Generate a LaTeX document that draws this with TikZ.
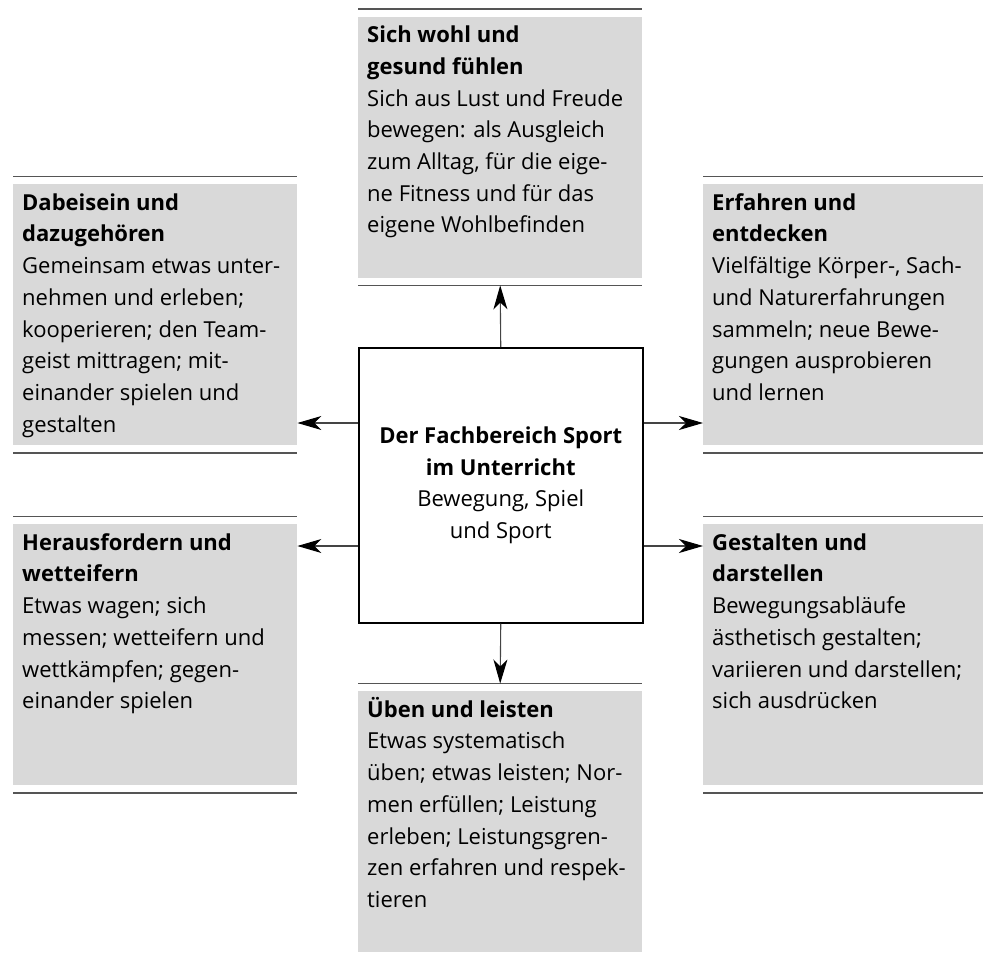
\documentclass[tikz,border=0pt]{standalone}
\usepackage{fontspec}
\setmainfont{Open Sans}
\usetikzlibrary{arrows.meta,calc}
\definecolor{boxgray}{HTML}{D9D9D9}
\definecolor{rulegray}{HTML}{555555}
\definecolor{linegray}{HTML}{444444}
\tikzset{
  areafill/.style={fill=boxgray, inner xsep=9pt, inner ysep=0pt, anchor=north west,
    font=\fontsize{22}{31.7}\selectfont},
  arearule/.style={draw=rulegray, line width=1.6pt},
  centerbox/.style={draw=black, line width=1.5pt, minimum width=284pt, minimum height=275pt,
    anchor=north west, align=center, inner sep=0pt, font=\fontsize{22}{31.7}\selectfont},
  arr/.style={draw=linegray, line width=1.1pt, -{Stealth[length=24pt,width=14pt,inset=7pt,color=black]}}
}
\newcommand\areabox[5]{%
  \node[areafill] (#1) at (#2,#3) {\parbox[c][261pt][t]{266pt}{\raggedright\rule{0pt}{26pt}\textbf{#4}\\#5}};
  \draw[arearule] ($(#1.north west)+(0,-7.5)$) -- ($(#1.north east)+(0,-7.5)$);
  \draw[arearule] ($(#1.south west)+(0,7.5)$) -- ($(#1.south east)+(0,7.5)$);
}
\begin{document}
\begin{tikzpicture}[x=1pt,y=-1pt]
\useasboundingbox (0,0) rectangle (983,953);
\clip (0,0) rectangle (983,953);
\areabox{T}{358}{16.5}{Sich wohl und\\gesund fühlen}{Sich aus Lust und Freude\\bewegen: als Ausgleich\\zum Alltag, für die eige-\\ne Fitness und für das\\eigene Wohlbefinden}
\areabox{L1}{13}{184}{Dabeisein und\\dazugehören}{Gemeinsam etwas unter-\\nehmen und erleben;\\kooperieren; den Team-\\geist mittragen; mit-\\einander spielen und\\gestalten}
\areabox{R1}{703}{184}{Erfahren und\\entdecken}{Vielfältige Körper-, Sach-\\und Naturerfahrungen\\sammeln; neue Bewe-\\gungen ausprobieren\\und lernen}
\areabox{L2}{13}{524}{Herausfordern und\\wetteifern}{Etwas wagen; sich\\messen; wetteifern und\\wettkämpfen; gegen-\\einander spielen}
\areabox{R2}{703}{524}{Gestalten und\\darstellen}{Bewegungsabläufe\\ästhetisch gestalten;\\variieren und darstellen;\\sich ausdrücken}
\areabox{B}{358}{691}{Üben und leisten}{Etwas systematisch\\üben; etwas leisten; Nor-\\men erfüllen; Leistung\\erleben; Leistungsgren-\\zen erfahren und respek-\\tieren}
\node[centerbox] (C) at (358,347) {\textbf{Der Fachbereich Sport}\\\textbf{im Unterricht}\\Bewegung, Spiel\\und Sport};
\coordinate (yU) at (0,423);
\coordinate (yD) at (0,546);
\draw[arr] (C.north) -- ($(T.south)+(0,7.5)$);
\draw[arr] (C.south) -- ($(B.north)+(0,-7.5)$);
\draw[arr] (C.west |- yU) -- (L1.east |- yU);
\draw[arr] (C.east |- yU) -- (R1.west |- yU);
\draw[arr] (C.west |- yD) -- (L2.east |- yD);
\draw[arr] (C.east |- yD) -- (R2.west |- yD);
\end{tikzpicture}
\end{document}
